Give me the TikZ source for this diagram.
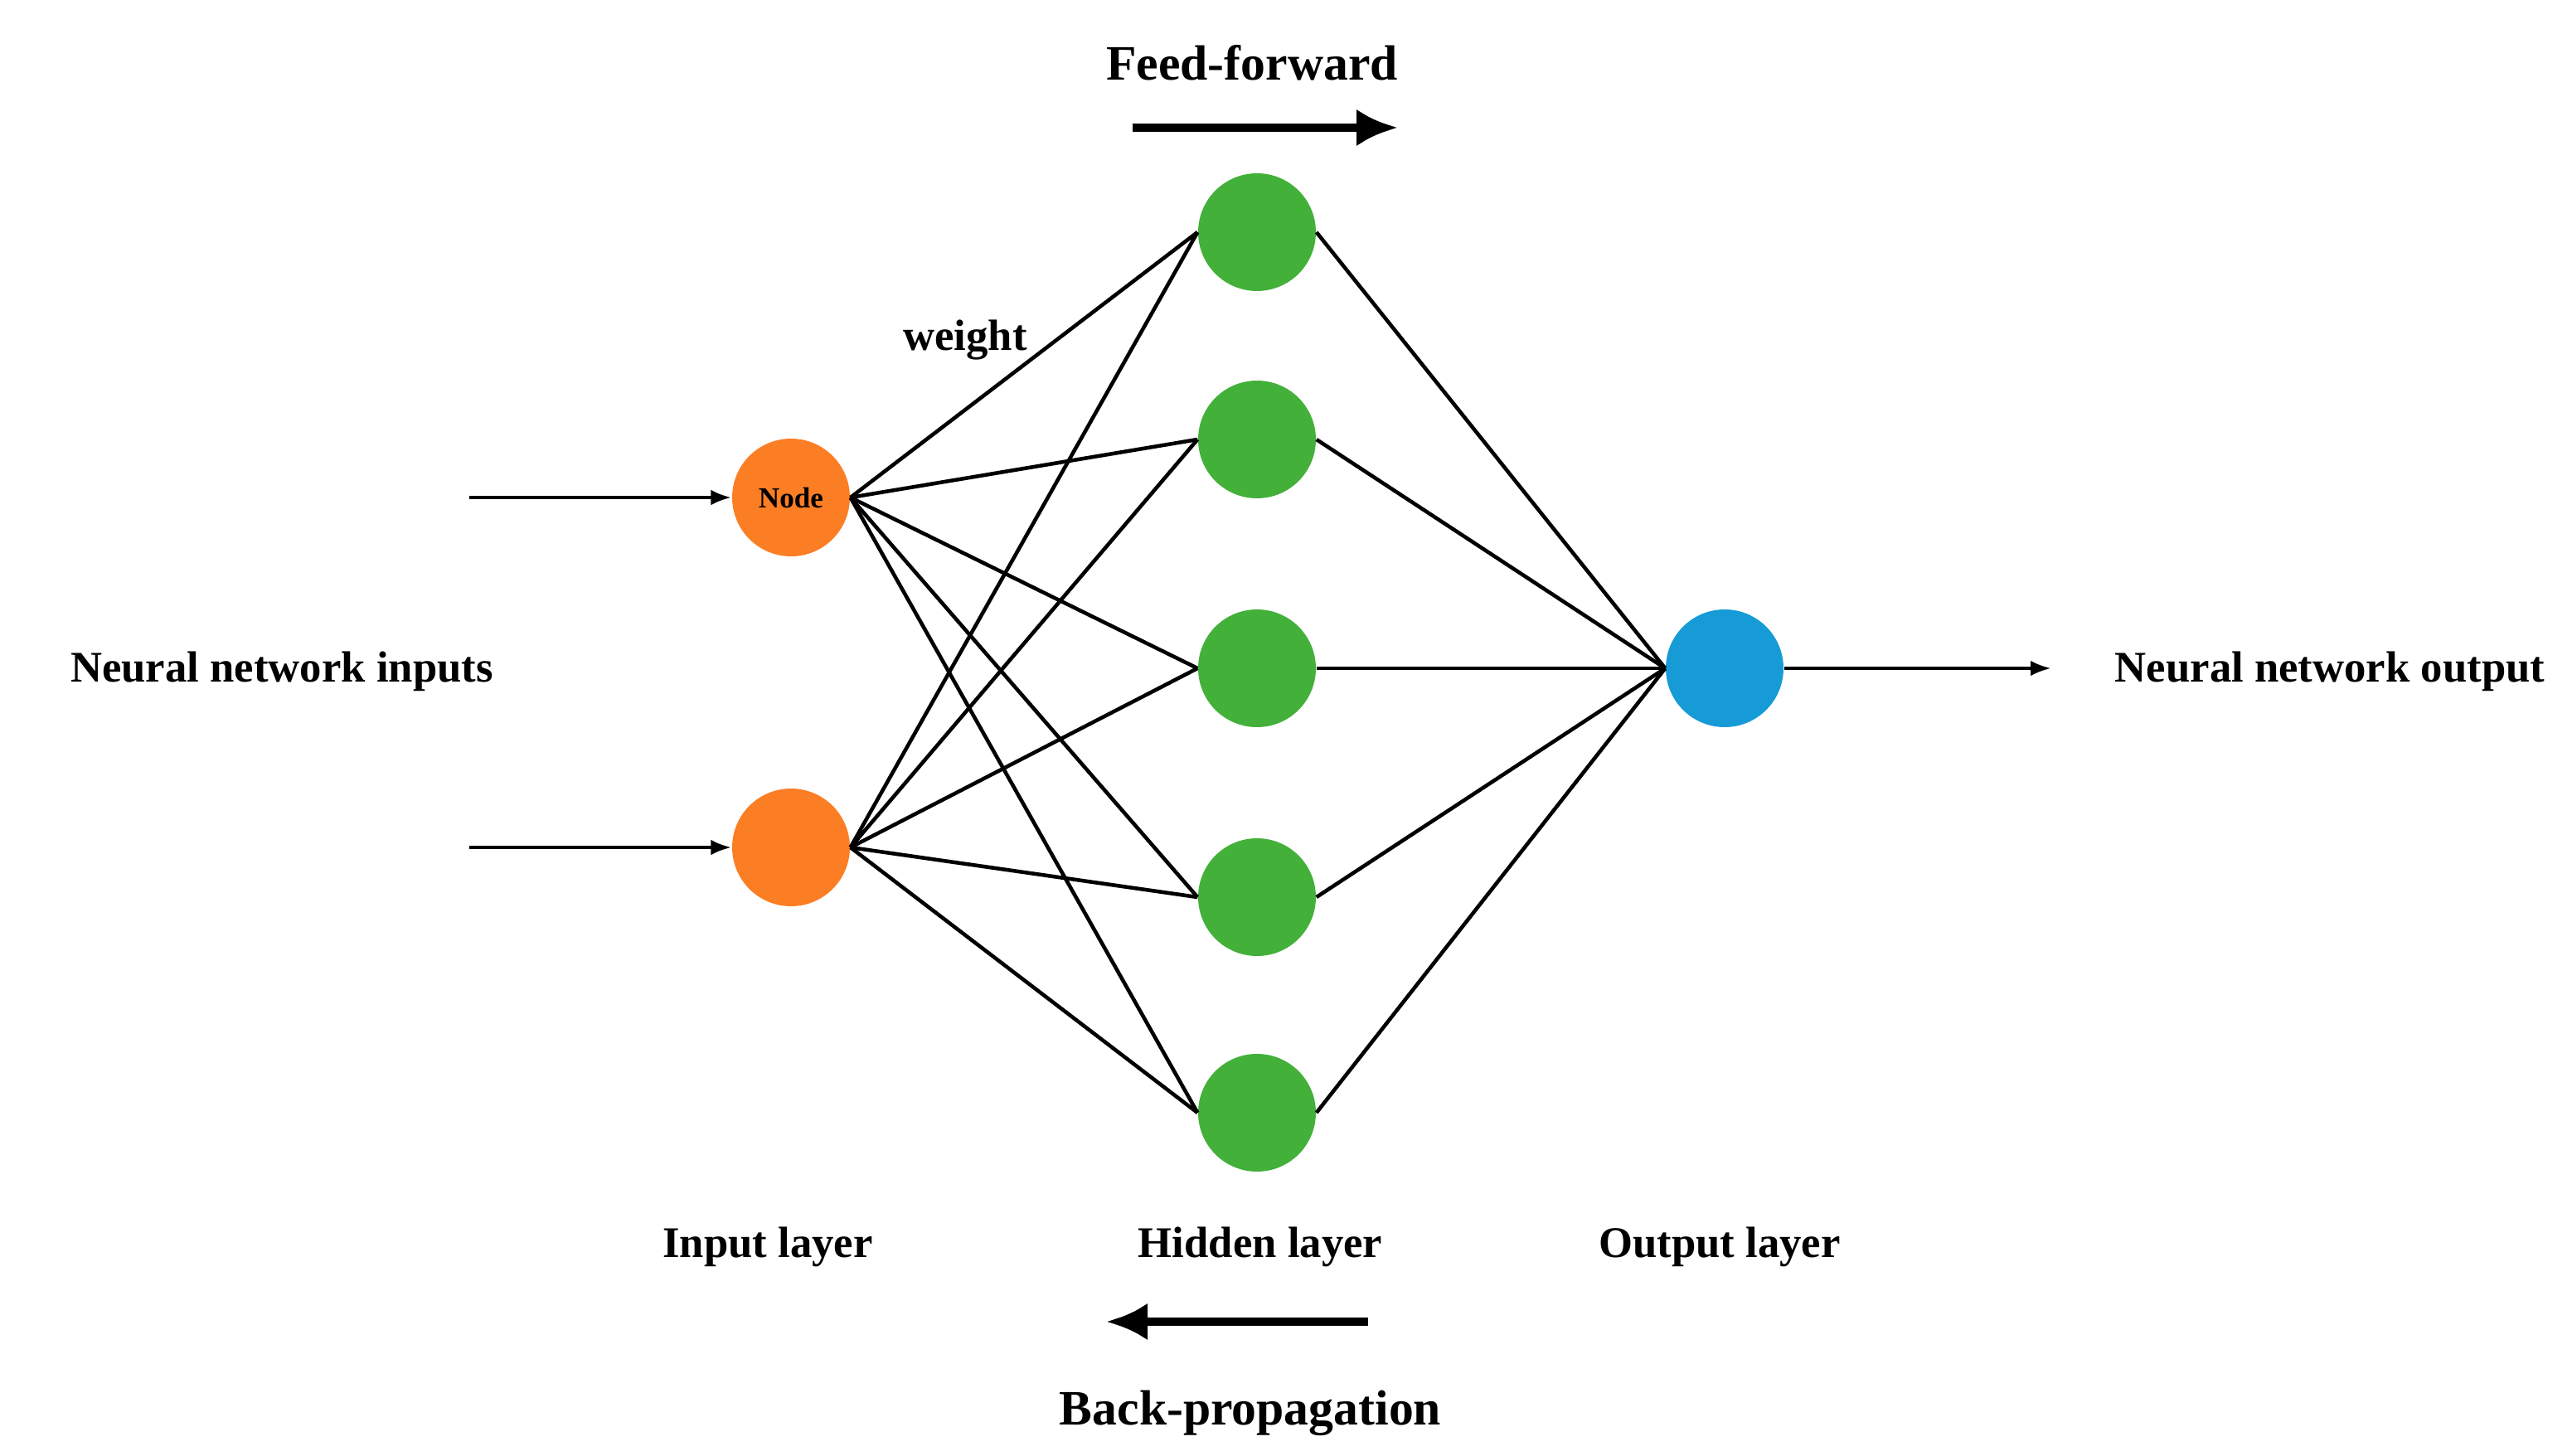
\documentclass[tikz,border=0pt]{standalone}
\usepackage{fontspec}
\setmainfont{Liberation Serif}
\definecolor{inorange}{RGB}{252,126,36}
\definecolor{hidgreen}{RGB}{67,176,58}
\definecolor{outblue}{RGB}{22,155,215}
\tikzset{
  neuron/.style={circle, minimum size=1.42cm, inner sep=0pt},
  lbl/.style={font=\fontsize{15}{18}\selectfont\bfseries},
  link/.style={line width=1.3pt},
  flow/.style={line width=3pt,-{Latex[length=0.5cm,width=0.45cm]}},
}
\usetikzlibrary{arrows.meta}
\begin{document}
\begin{tikzpicture}[x=0.02cm,y=-0.02cm]
        \useasboundingbox (0,0) rectangle (1551,878);

        \node[neuron, fill=inorange] (i1) at (477,300) {\fontsize{10}{12}\selectfont\bfseries Node};
        \node[neuron, fill=inorange] (i2) at (477,511) {};
        \node[neuron, fill=hidgreen] (h1) at (758,140) {};
        \node[neuron, fill=hidgreen] (h2) at (758,265) {};
        \node[neuron, fill=hidgreen] (h3) at (758,403) {};
        \node[neuron, fill=hidgreen] (h4) at (758,541) {};
        \node[neuron, fill=hidgreen] (h5) at (758,671) {};
        \node[neuron, fill=outblue] (o) at (1040,403) {};

        \foreach \i in {1,2}
          \foreach \h in {1,...,5}
            \draw[link] (i\i.east) -- (h\h.west);
        \foreach \h in {1,...,5}
          \draw[link] (h\h.east) -- (o.west);

        \coordinate (s1) at (283,300);
        \coordinate (s2) at (283,511);
        \coordinate (t) at (1237,403);
        \draw[link,-{Latex[length=0.25cm]}] (s1) -- (i1.west);
        \draw[link,-{Latex[length=0.25cm]}] (s2) -- (i2.west);
        \draw[link,-{Latex[length=0.25cm]}] (o.east) -- (t);

        \node[lbl] (inlbl) at (170,405) {Neural network inputs};
        \node[lbl] (outlbl) at (1405,405) {Neural network output};
        \node[lbl] (wlbl) at (582,205) {weight};
        \node[lbl] (il) at (463,752) {Input layer};
        \node[lbl] (hl) at (760,752) {Hidden layer};
        \node[lbl] (ol) at (1037,752) {Output layer};
        \node[lbl, font=\fontsize{17}{20}\selectfont\bfseries] (ff) at (755,38) {Feed-forward};
        \node[lbl, font=\fontsize{17}{20}\selectfont\bfseries] (bp) at (754,852) {Back-propagation};

        \coordinate (ffa) at (683,77);
        \coordinate (ffb) at (843,77);
        \coordinate (bpa) at (825,797);
        \coordinate (bpb) at (667,797);
        \draw[flow] (ffa) -- (ffb);
        \draw[flow] (bpa) -- (bpb);
\end{tikzpicture}
\end{document}
